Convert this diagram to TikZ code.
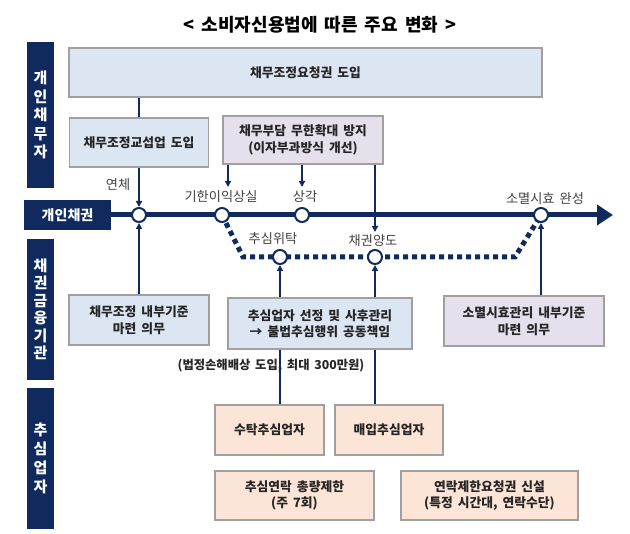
\documentclass[tikz,border=0pt]{standalone}
\usepackage{fontspec}
\setmainfont{Noto Sans CJK KR}[WordSpace=1.7]
\usetikzlibrary{arrows.meta,backgrounds}
\definecolor{navy}{RGB}{16,42,94}
\definecolor{boxblue}{RGB}{220,230,242}
\definecolor{boxlilac}{RGB}{229,224,236}
\definecolor{boxpeach}{RGB}{252,229,214}
\definecolor{boxline}{RGB}{160,160,160}
\definecolor{labelgray}{RGB}{64,64,64}

\begin{document}
\begin{tikzpicture}[x=1pt,y=-1pt,
                    box/.style={draw=boxline,line width=1.3pt,align=center,inner sep=0pt,
                                text=black!85,font=\fontsize{12.8}{16.5}\selectfont\bfseries},
                    bluebox/.style={box,fill=boxblue},
                    lilacbox/.style={box,fill=boxlilac},
                    peachbox/.style={box,fill=boxpeach},
                    sidebar/.style={fill=navy,text=white,align=center,inner sep=0pt,
                                    minimum width=27pt,font=\fontsize{15}{18.5}\selectfont\bfseries},
                    event/.style={circle,draw=navy,fill=white,line width=2pt,
                                  minimum size=14pt,inner sep=0pt},
                    tag/.style={text=labelgray,inner sep=0pt,font=\fontsize{13.2}{15}\selectfont},
                    link/.style={navy,line width=1.5pt},
                    arrow/.style={link,-{Triangle[length=6pt,width=6pt]}},
                    mainline/.style={navy,line width=5pt,-{Triangle[length=16pt,width=20pt]}},
                    dotline/.style={navy,line width=5pt,dash pattern=on 5pt off 4pt}]
    \useasboundingbox (0,0) rectangle (630,534);
    \node[font=\fontsize{18}{21}\selectfont\bfseries] (Title) at (320,25) {< 소비자신용법에 따른 주요 변화 >};

    \node[sidebar,minimum height=146pt] (DebtorBar) at (40.5,115) {개\\인\\채\\무\\자};
    \node[sidebar,minimum height=141pt,font=\fontsize{15}{17.5}\selectfont\bfseries] (BankBar) at (40.5,309.5) {채\\권\\금\\융\\기\\관};
    \node[sidebar,minimum height=141pt,font=\fontsize{15}{19}\selectfont\bfseries] (AgentBar) at (40.5,458.5) {추\\심\\업\\자};
    \node[sidebar,minimum width=87pt,minimum height=30pt,font=\fontsize{14}{16}\selectfont\bfseries] (ClaimTag) at (67.5,215) {개인채권};

    \node[bluebox,minimum width=473pt,minimum height=49pt] (Request) at (305.5,72.5) {채무조정요청권 도입};
    \node[bluebox,minimum width=139pt,minimum height=49pt] (Bargain) at (139,142.5) {채무조정교섭업 도입};
    \node[lilacbox,minimum width=160pt,minimum height=48pt] (Burden) at (303,140) {채무부담 무한확대 방지\\(이자부과방식 개선)};
    \node[bluebox,minimum width=140pt,minimum height=50pt] (InnerRule) at (139,320) {채무조정 내부기준\\마련 의무};
    \node[bluebox,minimum width=184pt,minimum height=51pt] (Select) at (320,323.5) {추심업자 선정 및 사후관리\\→ 불법추심행위 공동책임};
    \node[lilacbox,minimum width=160pt,minimum height=50pt] (ExpireRule) at (524,321) {소멸시효관리 내부기준\\마련 의무};
    \node[peachbox,minimum width=109pt,minimum height=50pt] (Trust) at (269.5,430) {수탁추심업자};
    \node[peachbox,minimum width=108pt,minimum height=50pt] (Buy) at (389,430) {매입추심업자};
    \node[peachbox,minimum width=159pt,minimum height=49pt] (Limit) at (294.5,495.5) {추심연락 총량제한\\(주 7회)};
    \node[peachbox,minimum width=177pt,minimum height=49pt] (Refuse) at (489.5,495.5) {연락제한요청권 신설\\(특정 시간대, 연락수단)};

    \node[event] (COverdue) at (139,215) {};
    \node[event] (CDue) at (222,215) {};
    \node[event] (CWriteOff) at (302,215) {};
    \node[event] (CExpire) at (541,215) {};
    \node[event] (CTrust) at (280,257) {};
    \node[event] (CTransfer) at (375,257) {};

    \node[tag] (LOverdue) at (118,185) {연체};
    \node[tag] (LDue) at (221,197) {기한이익상실};
    \node[tag] (LWriteOff) at (305,197) {상각};
    \node[tag] (LExpire) at (545,199) {소멸시효 완성};
    \node[tag] (LTrust) at (273,239) {추심위탁};
    \node[tag] (LTransfer) at (373,241) {채권양도};
    \node[inner sep=0pt,text=black!85,font=\fontsize{12.3}{14}\selectfont\bfseries] (Damages) at (271,366) {(법정손해배상 도입, 최대 300만원)};

    \coordinate (DueTip) at (228,187);
    \coordinate (WriteOffTip) at (302,187);
    \coordinate (TransferTip) at (375,232);
    \coordinate (LineEnd) at (613,215);
    \coordinate (DotA) at (243,257);
    \coordinate (DotB) at (515,257);

    \begin{pgfonlayer}{background}
        \draw[mainline] (ClaimTag.east) -- (LineEnd);
        \draw[dotline] (CDue.center) -- (DotA) -- (DotB) -- (CExpire.center);
    \end{pgfonlayer}

    \draw[link] (Request.south -| Bargain) -- (Bargain.north);
    \draw[arrow] (Bargain.south) -- (COverdue.north);
    \draw[arrow] (Burden.south -| DueTip) -- (DueTip);
    \draw[arrow] (Burden.south -| WriteOffTip) -- (WriteOffTip);
    \draw[arrow] (Burden.south -| TransferTip) -- (TransferTip);
    \draw[arrow] (InnerRule.north) -- (COverdue.south);
    \draw[arrow] (Select.north -| CTrust) -- (CTrust.south);
    \draw[arrow] (Select.north -| CTransfer) -- (CTransfer.south);
    \draw[arrow] (ExpireRule.north -| CExpire) -- (CExpire.south);
    \draw[link] (Select.south -| CTrust) -- (Trust.north -| CTrust);
    \draw[link] (Select.south -| CTransfer) -- (Buy.north -| CTransfer);
\end{tikzpicture}
\end{document}
